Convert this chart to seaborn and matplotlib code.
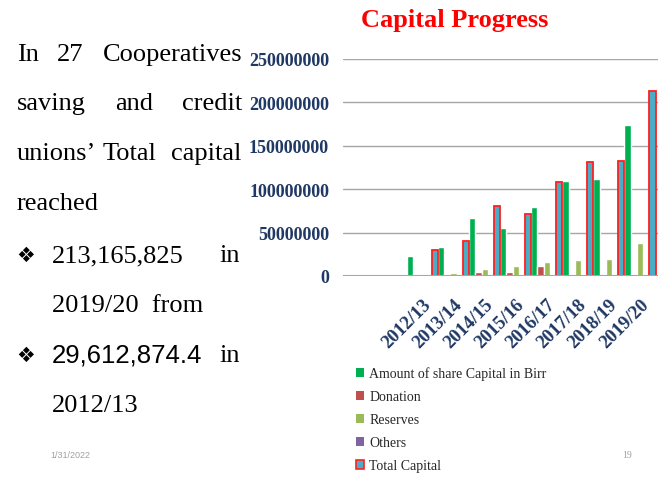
import matplotlib
matplotlib.use("Agg")
import matplotlib.pyplot as plt
import matplotlib.transforms as mtransforms
import seaborn as sns
import pandas as pd
from matplotlib.patches import Patch

sns.set_theme(style="white")
plt.rcParams['font.family'] = ['Liberation Serif', 'DejaVu Sans']

years = ["2012/13", "2013/14", "2014/15", "2015/16", "2016/17", "2017/18", "2018/19", "2019/20"]
share_capital = [23e6, 33e6, 67e6, 55e6, 79e6, 110e6, 112e6, 174e6]
donation = [2e6, 2e6, 5e6, 5e6, 12e6, 1e6, 0, 0]
reserves = [2e6, 4e6, 8e6, 11e6, 16e6, 19e6, 20e6, 38e6]
others = [0, 0, 0, 0, 0, 0, 0, 0]
total_capital = [29.6e6, 40e6, 81e6, 72e6, 108e6, 131e6, 133e6, 213e6]
series_names = ["Amount of share Capital in Birr", "Donation", "Reserves", "Others", "Total Capital"]
y_ticks = [0, 50000000, 100000000, 150000000, 200000000, 250000000]
y_tick_labels = ["0", "50000000", "100000000", "150000000", "200000000", "250000000"]

colors = ["#00B050", "#C0504D", "#9BBB59", "#8064A2", "#4BACC6"]

rows = []
for s, vals in zip(series_names, [share_capital, donation, reserves, others, total_capital]):
    for y, v in zip(years, vals):
        rows.append({"year": y, "value": v, "series": s})
df = pd.DataFrame(rows)

W, H = 658, 481
fig = plt.figure(figsize=(W / 100, H / 100), dpi=100)
ax = fig.add_axes([343 / W, (H - 277) / H, (658 - 343) / W, (277 - 60) / H])

sns.barplot(data=df, x="year", y="value", hue="series", hue_order=series_names,
            order=years, palette=colors, saturation=1, width=1.0, ax=ax, legend=False)
for bar in ax.containers[4]:
    bar.set_edgecolor("#FF2020")
    bar.set_linewidth(1.3)

ax.set_xlim(-2.56, 7.58)
ax.set_ylim(0, 250e6)
ax.set_yticks(y_ticks)
ax.set_yticklabels(y_tick_labels, fontsize=13, fontweight="bold", color="#1F3864")
ax.set_xticks(range(len(years)))
ax.set_xticklabels(years, rotation=45, ha="right", rotation_mode="anchor",
                   fontsize=13.5, fontweight="bold", color="#1F3864")
offset = mtransforms.ScaledTranslation(-6 / 100, 0, fig.dpi_scale_trans)
for lab in ax.get_xticklabels():
    lab.set_transform(lab.get_transform() + offset)
ax.tick_params(axis="x", pad=14, length=0)
ax.tick_params(axis="y", pad=10, length=0)
ax.set_xlabel("")
ax.set_ylabel("")
ax.yaxis.grid(True, color="#A6A6A6", linewidth=1)
ax.set_axisbelow(True)
for sp in ax.spines.values():
    sp.set_visible(False)
ax.axhline(0, color="#A6A6A6", linewidth=1.5)

# Title
fig.text(455 / W, 1 - 21 / H, "Capital Progress", ha="center", va="center",
         fontsize=19, fontweight="bold", color="#FF0000")

# Legend
handles = []
for i, (n, c) in enumerate(zip(series_names, colors)):
    if i == 4:
        handles.append(Patch(facecolor=c, edgecolor="#FF2020", linewidth=1.2, label=n))
    else:
        handles.append(Patch(facecolor=c, edgecolor="none", label=n))
fig.legend(handles=handles, loc="upper left", bbox_to_anchor=(350 / W, 1 - 362 / H),
           frameon=False, fontsize=10, handlelength=0.6, handleheight=0.6,
           handletextpad=0.4, labelspacing=0.72, borderaxespad=0)

# Left text (justified lines)
fs = 19
def t(x, y, s, **kw):
    fig.text(x / W, 1 - y / H, s, ha="left", va="center", fontsize=fs, color="black", **kw)

t(17, 55, "In")
t(57, 55, "27")
t(103, 55, "Cooperatives")
t(17, 104, "saving")
t(115, 104, "and")
t(182, 104, "credit")
t(17, 154, "unions\u2019")
t(103, 154, "Total")
t(171, 154, "capital")
t(17, 204, "reached")
fig.text(16 / W, 1 - 256 / H, "\u2756", ha="left", va="center", fontsize=15,
         family=["DejaVu Sans"], color="black")
t(52, 256, "213,165,825")
t(219, 256, "in")
t(52, 306, "2019/20  from")
fig.text(16 / W, 1 - 356 / H, "\u2756", ha="left", va="center", fontsize=15,
         family=["DejaVu Sans"], color="black")
fig.text(52 / W, 1 - 356 / H, "29,612,874.4", ha="left", va="center", fontsize=18.5,
         family=["Liberation Sans"], color="black")
t(219, 356, "in")
t(52, 406, "2012/13")

fig.text(50 / W, 1 - 456 / H, "1/31/2022", ha="left", va="center", fontsize=6.5,
         color="#A0A0A0", family=["Liberation Sans"])
fig.text(622 / W, 1 - 456 / H, "19", ha="left", va="center", fontsize=7,
         color="#A0A0A0", family=["Liberation Serif"])

fig.savefig("out.png", dpi=100)
